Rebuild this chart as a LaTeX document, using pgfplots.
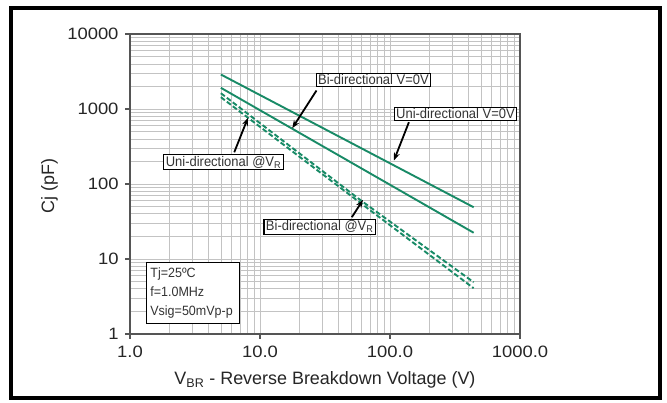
\documentclass[border=0pt]{standalone}
\usepackage{pgfplots}
\pgfplotsset{compat=1.18}
\usepackage{fontspec}
\setmainfont{Liberation Sans}
\newfontfamily\tickfont{Liberation Sans}[FakeStretch=1.12]
\newfontfamily\boxfont{Liberation Sans}[FakeStretch=0.93]
\usetikzlibrary{arrows.meta}
\definecolor{curve}{RGB}{24,138,102}
\definecolor{axisgray}{RGB}{85,85,85}
\definecolor{gridgray}{RGB}{195,195,195}
\begin{document}
\begin{tikzpicture}
\useasboundingbox (0,0) rectangle (667bp,403bp);
\fill[white] (0,0) rectangle (667bp,403bp);
\begin{axis}[
  at={(130bp,69bp)}, anchor=south west,
  scale only axis, width=390bp, height=300bp,
  xmode=log, ymode=log,
  xmin=1, xmax=1000, ymin=1, ymax=10000,
  xtick={1,10,100,1000}, xticklabels={1.0,10.0,100.0,1000.0},
  ytick={1,10,100,1000,10000}, yticklabels={1,10,100,1000,10000},
  grid=both,
  major grid style={draw=gridgray, line width=0.8bp},
  minor grid style={draw=gridgray, line width=0.7bp},
  axis line style={draw=axisgray, line width=1.5bp},
  tick align=outside, tick pos=left,
  major tick length=5bp, minor tick length=0pt,
  tick style={draw=axisgray, line width=1.2bp},
  ticklabel style={font=\tickfont\fontsize{16.5}{19}\selectfont, text=black!85},
  xticklabel style={yshift=-3.5bp},
  yticklabel style={xshift=-3bp},
  xlabel={V\textsubscript{BR} - Reverse Breakdown Voltage (V)},
  ylabel={Cj (pF)},
  label style={font=\fontsize{18}{21}\selectfont, text=black!85},
  xlabel style={at={(axis description cs:0.5,-0.17)}, anchor=base},
  ylabel style={at={(axis description cs:-0.2064,0.493)}, anchor=center},
  clip=false,
]
\addplot[curve, line width=1.9bp] coordinates {(5,2884) (440,49)};
\addplot[curve, line width=1.9bp] coordinates {(5,1918) (440,22.4)};
\addplot[curve, line width=1.9bp, dash pattern=on 5bp off 2.5bp] coordinates {(5,1624) (60,60) (440,4.9)};
\addplot[curve, line width=1.9bp, dash pattern=on 5bp off 2.5bp] coordinates {(5,1437) (60,55) (440,4.08)};

\tikzset{lab/.style={draw=black, line width=1.2bp, fill=white, inner xsep=2bp, inner ysep=1.5bp, font=\boxfont\fontsize{14}{16}\selectfont, text=black!80},
  arr/.style={-{Stealth[length=8bp,width=6bp]}, line width=1.8bp, black}}
\draw[arr] (axis cs:27.2,1765) -- (axis cs:17.7,554);
\node[lab] at (axis cs:74.6,2437) {Bi-directional V=0V};
\draw[arr] (axis cs:139.8,667) -- (axis cs:107.2,205.7);
\node[lab] at (axis cs:319,860) {Uni-directional V=0V};
\draw[arr] (axis cs:6.34,265) -- (axis cs:8.08,764);
\node[lab] at (axis cs:5.24,195) {Uni-directional @V\textsubscript{R}};
\draw[arr] (axis cs:50.9,36.1) -- (axis cs:62,61.5);
\node[lab] at (axis cs:28.8,26.9) {Bi-directional @V\textsubscript{R}};
\node[draw=black, line width=1.2bp, fill=white, anchor=north west, align=left,
  text width=86bp, inner xsep=3.5bp, inner ysep=2bp, minimum height=61bp,
  font=\boxfont\fontsize{13.5}{19}\selectfont, text=black!80]
  at (axis cs:1.334,9.06) {Tj=25ºC\\f=1.0MHz\\Vsig=50mVp-p};
\end{axis}
\draw[black, line width=4bp] (11bp,5bp) rectangle (660bp,395bp);
\end{tikzpicture}
\end{document}
